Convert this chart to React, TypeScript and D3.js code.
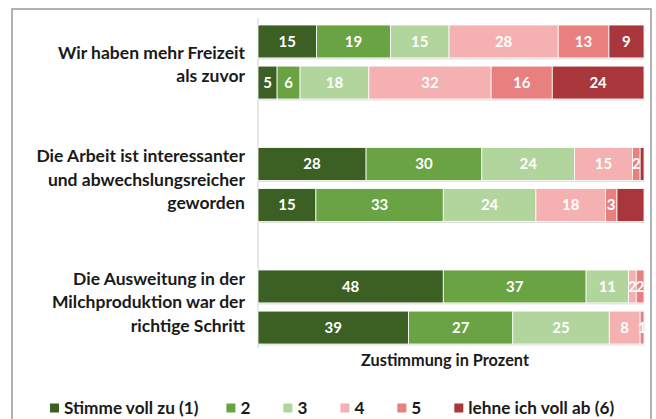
import React, { useEffect, useRef } from "react";
import * as d3 from "d3";

const series = ["Stimme voll zu (1)", "2", "3", "4", "5", "lehne ich voll ab (6)"];
const colors = ["#3c5f24", "#6aa343", "#b1d59c", "#f5b1b1", "#e98080", "#a8363a"];

const questions = [
  ["Wir haben mehr Freizeit", "als zuvor"],
  ["Die Arbeit ist interessanter", "und abwechslungsreicher", "geworden"],
  ["Die Ausweitung in der", "Milchproduktion war der", "richtige Schritt"],
];

const freizeitA = [15, 19, 15, 28, 13, 9];
const freizeitB = [5, 6, 18, 32, 16, 24];
const arbeitA = [28, 30, 24, 15, 2, 1];
const arbeitB = [15, 33, 24, 18, 3, 7];
const milchA = [48, 37, 11, 2, 2, 0];
const milchB = [39, 27, 25, 8, 1, 0];

const groupRows = [
  [freizeitA, freizeitB],
  [arbeitA, arbeitB],
  [milchA, milchB],
];
// labels not shown in the reference: [group, row, segment]
const hiddenLabels = [
  [1, 0, 5],
  [1, 1, 5],
  [2, 0, 5],
];

const axisTitle = "Zustimmung in Prozent";
const FONT = "Lato, 'Open Sans', sans-serif";

export default function App() {
  const ref = useRef<SVGSVGElement>(null);

  useEffect(() => {
    const svg = d3.select(ref.current);
    svg.selectAll("*").remove();

    const H = 419;
    const x0 = 258;
    const x1 = 644;

    // frame
    svg.append("path")
      .attr("d", `M12,${H + 2} L12,9 L651,9 L651,${H + 2}`)
      .attr("fill", "none")
      .attr("stroke", "#999")
      .attr("stroke-width", 1.5);

    const x = d3.scaleLinear().domain([0, 1]).range([x0, x1]);
    const yGroup = d3.scaleBand<number>()
      .domain(d3.range(questions.length))
      .range([0.75, 368.25])
      .paddingInner(0.396)
      .paddingOuter(0.198);
    const yRow = d3.scaleBand<number>()
      .domain([0, 1])
      .range([0, yGroup.bandwidth()])
      .paddingInner(0.2);

    const stack = d3.stack<number[], number>()
      .keys(d3.range(series.length))
      .value((d, k) => d[k])
      .offset(d3.stackOffsetExpand);

    // axis line
    svg.append("line")
      .attr("x1", x0).attr("x2", x0)
      .attr("y1", 18).attr("y2", 348)
      .attr("stroke", "#d0d0d0").attr("stroke-width", 1);

    groupRows.forEach((rows, gi) => {
      const stacked = stack(rows);
      stacked.forEach((layer, si) => {
        layer.forEach((seg, ri) => {
          const y = (yGroup(gi) as number) + (yRow(ri) as number);
          const h = yRow.bandwidth();
          const xa = x(seg[0]);
          const xb = x(seg[1]);
          // shadow
          svg.append("rect")
            .attr("x", xa + 0.5).attr("y", y + 1.5)
            .attr("width", Math.max(0, xb - xa)).attr("height", h)
            .attr("fill", "#ddd");
          svg.append("rect")
            .attr("x", xa).attr("y", y)
            .attr("width", Math.max(0, xb - xa)).attr("height", h)
            .attr("fill", colors[si])
            .attr("stroke", "#fff").attr("stroke-width", 0.8);
          const v = rows[ri][si];
          const hidden = hiddenLabels.some(([g, r, s]) => g === gi && r === ri && s === si);
          if (!hidden && v > 0) {
            svg.append("text")
              .attr("x", (xa + xb) / 2)
              .attr("y", y + h / 2)
              .attr("dy", "0.36em")
              .attr("text-anchor", "middle")
              .attr("fill", "#fff")
              .attr("font-family", FONT)
              .attr("font-weight", 700)
              .attr("font-size", 15)
              .text(v);
          }
        });
      });

      // category labels
      const lines = questions[gi];
      const cy = (yGroup(gi) as number) + yGroup.bandwidth() / 2;
      const lh = 23.5;
      lines.forEach((ln, li) => {
        svg.append("text")
          .attr("x", 245)
          .attr("y", cy + (li - (lines.length - 1) / 2) * lh - (lines.length === 3 ? 5 : -2))
          .attr("dy", "0.36em")
          .attr("text-anchor", "end")
          .attr("fill", "#1a1a1a")
          .attr("font-family", FONT)
          .attr("font-weight", 700)
          .attr("font-size", 17.5)
          .text(ln);
      });
    });

    // axis title
    svg.append("text")
      .attr("x", (x0 + x1) / 2 - 6)
      .attr("y", 360)
      .attr("dy", "0.36em")
      .attr("text-anchor", "middle")
      .attr("fill", "#1a1a1a")
      .attr("font-family", FONT)
      .attr("font-weight", 700)
      .attr("font-size", 16.3)
      .text(axisTitle);

    // legend
    let lx = 50;
    const ly = 408;
    series.forEach((s, i) => {
      svg.append("rect")
        .attr("x", lx).attr("y", ly - 4.5)
        .attr("width", 9).attr("height", 9)
        .attr("fill", colors[i]);
      const t = svg.append("text")
        .attr("x", lx + 14)
        .attr("y", ly)
        .attr("dy", "0.36em")
        .attr("fill", "#1a1a1a")
        .attr("font-family", FONT)
        .attr("font-weight", 700)
        .attr("font-size", 17.2)
        .text(s);
      const tw = (t.node() as SVGTextElement).getComputedTextLength();
      lx = lx + 14 + tw + (i === 0 ? 28 : 33);
    });
  }, []);

  return (
    <svg
      ref={ref}
      width={656}
      height={419}
      style={{ position: "absolute", left: 0, top: 0, background: "#fff" }}
    />
  );
}
